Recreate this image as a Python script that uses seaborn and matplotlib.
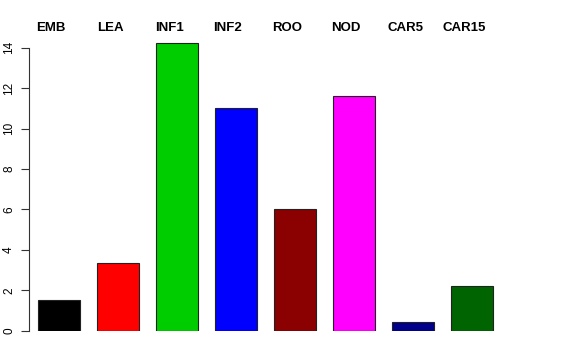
import matplotlib
matplotlib.use("Agg")
import matplotlib.pyplot as plt
import matplotlib.transforms as mtransforms
import seaborn as sns
import pandas as pd

categories = ["EMB", "LEA", "INF1", "INF2", "ROO", "NOD", "CAR5", "CAR15"]
values = [1.5, 3.36, 14.22, 11.02, 6.02, 11.61, 0.42, 2.23]
bar_colors = ["#000000", "#FF0000", "#00CD00", "#0000FF",
              "#8B0000", "#FF00FF", "#00008B", "#006400"]

sns.set_style("white")
plt.rcParams["font.family"] = ["Liberation Sans", "DejaVu Sans"]
plt.rcParams["text.color"] = "black"
plt.rcParams["ytick.color"] = "black"

df = pd.DataFrame({"tissue": categories, "value": values})

fig = plt.figure(figsize=(5.76, 3.6), dpi=100)
ax = fig.add_axes([29 / 576, 29.3 / 360, 511 / 576, 289 / 360])

sns.barplot(data=df, x="tissue", y="value", hue="tissue", palette=bar_colors,
            order=categories, width=42 / 59, legend=False, ax=ax,
            edgecolor="#222222", linewidth=0.8, saturation=1)

ax.set_xlim(-30 / 59, (540 - 59) / 59)
ax.set_ylim(0, 14.3)
ax.set_xlabel("")
ax.set_ylabel("")
ax.set_xticks([])
ax.set_yticks(range(0, 15, 2))
ax.set_yticklabels([str(v) for v in range(0, 15, 2)], rotation=90,
                   va="center", fontsize=8.5, color="black")
ax.tick_params(axis="y", direction="out", length=6, width=0.8,
               color="#333333", pad=4, left=True)

for side in ["top", "right", "bottom"]:
    ax.spines[side].set_visible(False)
ax.spines["left"].set_bounds(0, 14)
ax.spines["left"].set_color("#333333")
ax.spines["left"].set_linewidth(0.8)

# labels above each bar, nudged a little to the left like the original
trans = mtransforms.blended_transform_factory(ax.transData, fig.transFigure)
trans = mtransforms.offset_copy(trans, fig=fig, x=-8, units="dots")
for i, name in enumerate(categories):
    ax.text(i, 1 - 28 / 360, name, transform=trans, ha="center", va="center",
            fontsize=9.5, fontweight="bold", color="black")

fig.savefig("out.png", dpi=100)
